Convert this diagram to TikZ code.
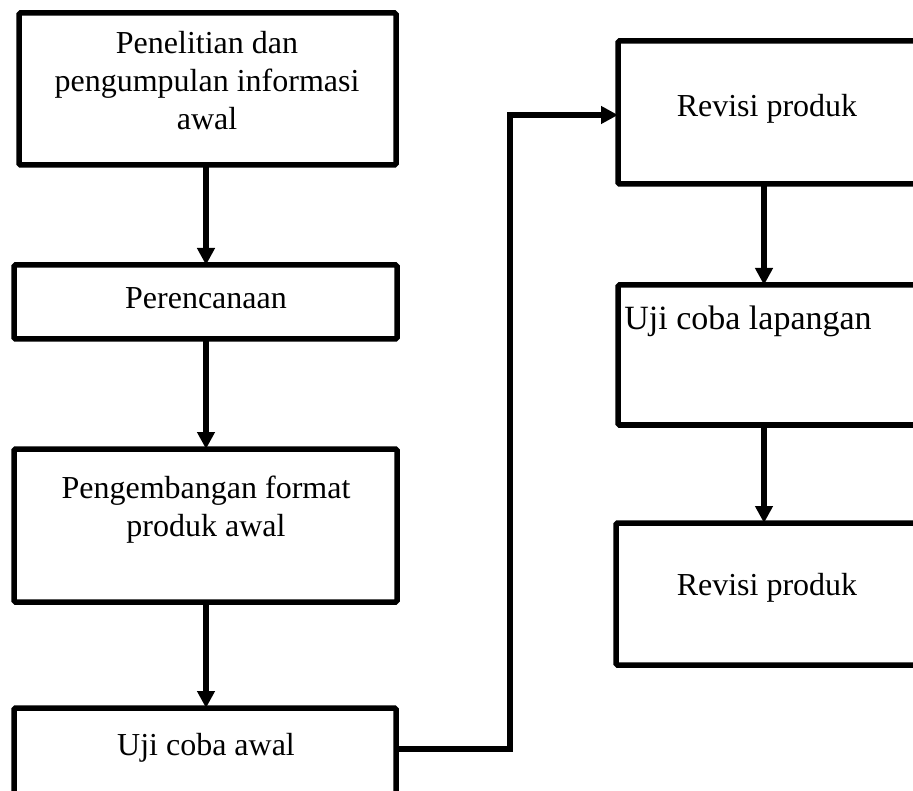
\documentclass[tikz,border=0pt]{standalone}
\usepackage{fontspec}
\setmainfont{Liberation Serif}
\usetikzlibrary{arrows.meta}
\begin{document}
\begin{tikzpicture}[x=1pt,y=-1pt,
  box/.style={draw=black, line width=5.5pt, fill=white, inner sep=0pt, outer sep=0pt, rounded corners=1.5pt},
  lbl/.style={font=\fontsize{32}{38}\selectfont, align=center, inner sep=0pt, anchor=base},
  conn/.style={line width=5.5pt, -{Triangle[length=17pt,width=17pt]}}]
\useasboundingbox (0,0) rectangle (913,791);
\clip (0,0) rectangle (913,791);
% boxes (left column)
\node[box, anchor=north west, minimum width=377pt, minimum height=152pt] (b1) at (19,13) {};
\node[box, anchor=north west, minimum width=383pt, minimum height=74pt] (b2) at (14,265) {};
\node[box, anchor=north west, minimum width=383pt, minimum height=153pt] (b3) at (14,449) {};
\node[box, anchor=north west, minimum width=382pt, minimum height=112pt] (b4) at (14,708) {};
% boxes (right column)
\node[box, anchor=north west, minimum width=312pt, minimum height=143pt] (b5) at (618,41) {};
\node[box, anchor=north west, minimum width=312pt, minimum height=140pt] (b6) at (618,285) {};
\node[box, anchor=north west, minimum width=314pt, minimum height=142pt] (b7) at (616,523) {};
% labels (base anchor = baseline of the last line)
\node[lbl] (t1) at (207,130) {Penelitian dan\\pengumpulan informasi\\awal};
\node[lbl] (t2) at (206,309) {Perencanaan};
\node[lbl] (t3) at (206,536) {Pengembangan format\\produk awal};
\node[lbl] (t4) at (206,755) {Uji coba awal};
\node[lbl] (t5) at (767,117) {Revisi produk};
\node[lbl, font=\fontsize{34}{40}\selectfont] (t6) at (748,330) {Uji coba lapangan};
\node[lbl] (t7) at (767,595) {Revisi produk};
% connectors
\coordinate (x1) at (206,0);
\coordinate (x2) at (764,0);
\draw[conn] (b1.south -| x1) -- (b2.north -| x1);
\draw[conn] (b2.south -| x1) -- (b3.north -| x1);
\draw[conn] (b3.south -| x1) -- (b4.north -| x1);
\draw[conn] (b5.south -| x2) -- (b6.north -| x2);
\draw[conn] (b6.south -| x2) -- (b7.north -| x2);
\coordinate (c1) at (396,749);
\coordinate (c2) at (510,749);
\coordinate (c3) at (510,115);
\draw[conn] (c1) -- (c2) -- (c3) -- (c3 -| b5.west);
\end{tikzpicture}
\end{document}
